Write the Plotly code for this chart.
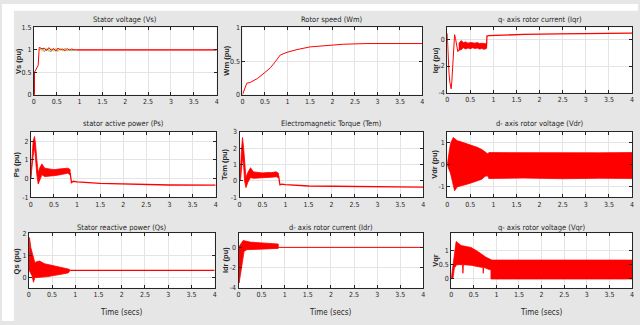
import plotly.graph_objects as go

W, H = 640, 325

# ---------------- data ----------------
x_ticks = [0, 0.5, 1, 1.5, 2, 2.5, 3, 3.5, 4]
x_tick_text = ["0", "0.5", "1", "1.5", "2", "2.5", "3", "3.5", "4"]

titles = ["Stator voltage (Vs)", "Rotor speed (Wm)", "q- axis rotor current (Iqr)",
          "stator active power (Ps)", "Electromagnetic Torque (Tem)", "d- axis rotor voltage (Vdr)",
          "Stator reactive power (Qs)", "d- axis rotor current (Idr)", "q- axis rotor voltage (Vqr)"]
ylabels = ["Vs (pu)", "Wm (pu)", "Iqr (pu)", "Ps (pu)", "Tem (pu)", "Vdr (pu)",
           "Qs (pu)", "Idr (pu)", "Vqr"]

# 1 Stator voltage
vs_t = [0, 0.015, 0.015, 0.06, 0.095, 0.12, 0.13]
vs_v = [0, 0, 0.5, 0.59, 0.65, 1.06, 1.05]
vs_osc_t = [0.13, 0.18, 0.23, 0.28, 0.33, 0.38, 0.43, 0.48, 0.53, 0.58, 0.63, 0.68, 0.73, 0.78, 0.83, 0.88, 0.93]
vs_a = [1.05, 1.02, 1.04, 0.98, 1.05, 0.99, 1.03, 0.97, 1.04, 1.0, 1.02, 0.98, 1.03, 0.99, 1.02, 1.0, 1.0]
vs_b = [1.02, 0.97, 1.0, 1.04, 0.96, 1.03, 0.97, 1.04, 0.98, 1.03, 0.97, 1.02, 0.98, 1.02, 0.99, 1.01, 1.0]
vs_c = [1.0, 1.04, 0.96, 1.02, 0.99, 0.96, 1.02, 0.99, 0.97, 1.02, 0.99, 1.03, 0.98, 1.01, 0.98, 1.0, 1.0]
vs_ss_t = [0.93, 4]
vs_ss = [1, 1]

# 2 Rotor speed
wm_t = [0, 0.095, 0.18, 0.33, 0.48, 0.62, 0.73, 0.84, 0.99, 1.21, 1.5, 1.8, 2.24, 2.75, 4.0]
wm_v = [0, 0.17, 0.185, 0.24, 0.32, 0.40, 0.49, 0.59, 0.63, 0.67, 0.71, 0.73, 0.75, 0.76, 0.76]

# 3 q-axis rotor current
iqr_t = [0, 0.01, 0.02, 0.04, 0.06, 0.085, 0.1, 0.12, 0.14, 0.16, 0.18, 0.2, 0.23, 0.25]
iqr_v = [0.5, -0.6, -1.6, -2.6, -3.3, -3.75, -3.2, -1.6, -0.3, 0.4, 0.1, -0.4, -0.9, -0.75]
iqr_band_t = [0.25, 0.3, 0.35, 0.4, 0.45, 0.5, 0.55, 0.6, 0.65, 0.7, 0.75, 0.8, 0.85]
iqr_band_up = [-0.3, -0.05, -0.2, -0.15, -0.25, -0.2, -0.22, -0.25, -0.2, -0.28, -0.25, -0.3, -0.3]
iqr_band_lo = [-0.8, -0.75, -0.6, -0.7, -0.62, -0.68, -0.6, -0.66, -0.62, -0.7, -0.66, -0.72, -0.66]
iqr_ss_t = [0.85, 0.86, 0.9, 1.2, 1.65, 2.4, 3.0, 4.0]
iqr_ss = [-0.6, 0.3, 0.33, 0.37, 0.42, 0.46, 0.49, 0.52]

# 4 stator active power
ps_band_t = [0, 0.02, 0.05, 0.08, 0.1, 0.13, 0.16, 0.2, 0.24, 0.3, 0.4, 0.5, 0.6, 0.7, 0.8, 0.85]
ps_band_up = [0, 1.0, 2.0, 2.25, 1.9, 1.0, 0.3, 0.6, 0.78, 0.55, 0.5, 0.47, 0.5, 0.52, 0.55, 0.48]
ps_band_lo = [0, 0.2, 1.2, 1.7, 1.2, 0.2, -0.3, -0.1, 0.2, 0.1, 0.12, 0.15, 0.18, 0.22, 0.28, 0.2]
ps_ss_t = [0.85, 0.88, 0.92, 1.0, 1.5, 2.0, 2.5, 3.0, 4.0]
ps_ss = [0.3, -0.22, -0.15, -0.18, -0.26, -0.29, -0.33, -0.35, -0.36]

# 5 electromagnetic torque
tem_band_t = [0, 0.02, 0.04, 0.065, 0.09, 0.11, 0.14, 0.18, 0.24, 0.3, 0.4, 0.5, 0.6, 0.7, 0.8, 0.85]
tem_band_up = [0, 0.6, 1.8, 2.65, 2.0, 1.0, 0.2, 0.5, 0.8, 0.55, 0.5, 0.48, 0.5, 0.5, 0.55, 0.45]
tem_band_lo = [0, 0.0, 0.6, 1.4, 0.9, 0.0, -0.42, -0.1, 0.2, 0.15, 0.15, 0.2, 0.2, 0.22, 0.25, 0.18]
tem_ss_t = [0.85, 0.88, 0.92, 1.0, 1.5, 2.0, 2.5, 3.0, 4.0]
tem_ss = [0.3, -0.25, -0.2, -0.24, -0.32, -0.34, -0.37, -0.38, -0.39]

# 6 d-axis rotor voltage
vdr_up_t = [0, 0.07, 0.13, 0.22, 0.3, 0.43, 0.55, 0.65, 0.75, 0.82, 0.88, 0.9, 1.65, 2.5, 3.3, 4.0]
vdr_up = [0, 0.96, 1.25, 1.1, 1.05, 0.96, 0.88, 0.8, 0.7, 0.59, 0.5, 0.56, 0.55, 0.57, 0.55, 0.56]
vdr_lo_t = [0, 0.07, 0.16, 0.22, 0.3, 0.43, 0.55, 0.65, 0.75, 0.82, 0.88, 0.9, 1.65, 2.5, 3.3, 4.0]
vdr_lo = [0, -0.37, -1.18, -1.0, -0.95, -0.88, -0.8, -0.74, -0.65, -0.52, -0.5, -0.62, -0.6, -0.63, -0.61, -0.62]

# 7 stator reactive power
qs_up_t = [0, 0.014, 0.043, 0.09, 0.13, 0.18, 0.23, 0.34, 0.45, 0.55, 0.66, 0.77, 0.87]
qs_up = [0.3, 1.8, 1.34, 0.97, 0.67, 0.72, 0.74, 0.62, 0.57, 0.52, 0.48, 0.44, 0.37]
qs_lo_t = [0, 0.014, 0.07, 0.1, 0.13, 0.2, 0.41, 0.63, 0.84, 0.87]
qs_lo = [0.3, 0.3, 0.07, -0.22, 0.0, 0.0, 0.04, 0.12, 0.2, 0.25]
qs_ss_t = [0.87, 4.0]
qs_ss = [0.32, 0.32]

# 8 d-axis rotor current
idr_up_t = [0, 0.035, 0.07, 0.1, 0.25, 0.46, 0.68, 0.86]
idr_up = [0, 0.26, 0.52, 0.68, 0.52, 0.43, 0.36, 0.33]
idr_lo_t = [0, 0.014, 0.05, 0.086, 0.12, 0.18, 0.46, 0.86]
idr_lo = [0, -3.5, -2.36, -1.38, -0.39, -0.23, -0.16, -0.1]
idr_ss_t = [0.86, 4.0]
idr_ss = [0, 0]

# 9 q-axis rotor voltage
vqr_up_t = [0, 0.06, 0.11, 0.15, 0.22, 0.44, 0.58, 0.77, 0.88, 0.9, 4.0]
vqr_up = [0, 0.73, 1.31, 1.26, 1.17, 1.1, 0.97, 0.76, 0.66, 0.66, 0.66]
vqr_lo_t = [0, 0.04, 0.07, 0.12, 0.22, 0.25, 0.26, 0.27, 0.44, 0.66, 0.7, 0.71, 0.72, 0.84, 0.88, 0.88, 4.0]
vqr_lo = [0, 0.03, 0.38, 0.5, 0.5, 0.5, 0.2, 0.5, 0.48, 0.41, 0.41, 0.2, 0.41, 0.33, 0.33, 0.0, 0.0]

y_ranges = [[0, 1.5], [0, 1], [-4.05, 0.96], [-1, 2.5], [-1, 3], [-1.47, 1.51],
            [-0.47, 2], [-4, 1.4], [-0.31, 1.6]]
y_ticks = [[0, 0.5, 1, 1.5], [0, 0.5, 1], [-4, -2, 0], [-1, 0, 1, 2], [-1, 0, 1, 2, 3],
           [-1, 0, 1], [0, 1, 2], [-4, -2, 0], [0, 0.5, 1]]
y_tick_text = [["0", "0.5", "1", "1.5"], ["0", "0.5", "1"], ["-4", "-2", "0"],
               ["-1", "0", "1", "2"], ["-1", "0", "1", "2", "3"], ["-1", "0", "1"],
               ["0", "1", "2"], ["-4", "-2", "0"], ["0", "0.5", "1"]]

# ---------------- layout geometry (pixels) ----------------
boxes = [(32, 216, 24, 93), (242, 423, 24, 93), (448, 634, 24, 91),
         (29, 215, 131, 198), (239, 424, 131, 198), (448, 634, 131, 198),
         (27, 214, 235, 291), (238, 424, 235, 291), (452, 634, 235, 291)]
title_y = [16, 16, 16, 123, 123, 123, 229, 229, 229]
ylab_x = [16, 225, 436, 15, 224, 435, 15, 225, 436]

RED = "#ff0000"
FONT = "Liberation Sans Narrow, DejaVu Sans Condensed, Liberation Sans, Arial, sans-serif"

fig = go.Figure()


def ax(i):
    return ("x" if i == 0 else f"x{i+1}"), ("y" if i == 0 else f"y{i+1}")


def line(i, t, v, color=RED, width=1.0):
    xa, ya = ax(i)
    fig.add_trace(go.Scatter(x=t, y=v, mode="lines", xaxis=xa, yaxis=ya,
                             line=dict(color=color, width=width), hoverinfo="skip",
                             showlegend=False))


def band(i, tu, up, tl, lo):
    xa, ya = ax(i)
    fig.add_trace(go.Scatter(x=list(tu) + list(tl)[::-1], y=list(up) + list(lo)[::-1],
                             mode="lines", fill="toself", fillcolor=RED,
                             line=dict(color=RED, width=0.8), xaxis=xa, yaxis=ya,
                             hoverinfo="skip", showlegend=False))


# 1
line(0, vs_t, vs_v)
line(0, vs_osc_t, vs_c, color="#19a8ff", width=1.0)
line(0, vs_osc_t, vs_b, color="#f0d000", width=1.0)
line(0, vs_osc_t, vs_a, color=RED, width=1.0)
line(0, vs_ss_t, vs_ss, color="#ff3030", width=1.6)
# 2
line(1, wm_t, wm_v)
# 3
line(2, iqr_t, iqr_v)
band(2, iqr_band_t, iqr_band_up, iqr_band_t, iqr_band_lo)
line(2, iqr_ss_t, iqr_ss, width=1.3)
# 4
band(3, ps_band_t, ps_band_up, ps_band_t, ps_band_lo)
line(3, ps_ss_t, ps_ss, width=1.3)
# 5
band(4, tem_band_t, tem_band_up, tem_band_t, tem_band_lo)
line(4, tem_ss_t, tem_ss, width=1.3)
# 6
band(5, vdr_up_t, vdr_up, vdr_lo_t, vdr_lo)
# 7
band(6, qs_up_t, qs_up, qs_lo_t, qs_lo)
line(6, qs_ss_t, qs_ss, width=1.3)
# 8
band(7, idr_up_t, idr_up, idr_lo_t, idr_lo)
line(7, idr_ss_t, idr_ss)
# 9
band(8, vqr_up_t, vqr_up, vqr_lo_t, vqr_lo)

layout = dict(width=W, height=H, margin=dict(l=0, r=0, t=0, b=0),
              paper_bgcolor="#e6e6e6", plot_bgcolor="white", showlegend=False,
              font=dict(family=FONT, size=7, color="#262626"))
annotations = []
for i, (x0, x1, y0, y1) in enumerate(boxes):
    xa, ya = ax(i)
    xk = "xaxis" if i == 0 else f"xaxis{i+1}"
    yk = "yaxis" if i == 0 else f"yaxis{i+1}"
    common = dict(showgrid=True, gridcolor="#e4e4e4", gridwidth=1, showline=True,
                  linecolor="#262626", linewidth=1, mirror="ticks", ticks="inside",
                  ticklen=3, tickcolor="#262626", zeroline=False, fixedrange=True,
                  tickfont=dict(family=FONT, size=7, color="#262626"))
    layout[xk] = dict(domain=[x0 / W, x1 / W], range=[0, 4], tickvals=x_ticks,
                      ticktext=x_tick_text, anchor=ya, **common)
    layout[yk] = dict(domain=[1 - y1 / H, 1 - y0 / H], range=y_ranges[i], tickvals=y_ticks[i],
                      ticktext=y_tick_text[i], anchor=xa, **common)
    annotations.append(dict(text=titles[i], x=(x0 + x1) / 2 / W, y=1 - title_y[i] / H,
                            xref="paper", yref="paper", showarrow=False, xanchor="center",
                            yanchor="middle", font=dict(family=FONT, size=7.5, color="#262626")))
    annotations.append(dict(text="<b>" + ylabels[i] + "</b>", x=ylab_x[i] / W,
                            y=1 - (y0 + y1) / 2 / H, xref="paper", yref="paper",
                            showarrow=False, textangle=-90, xanchor="center", yanchor="middle",
                            font=dict(family="Liberation Sans, Arial, sans-serif", size=7.5,
                                      color="#262626")))
    if i >= 6:
        annotations.append(dict(text="Time (secs)", x=(x0 + x1) / 2 / W, y=1 - 316 / H,
                                xref="paper", yref="paper", showarrow=False, xanchor="center",
                                yanchor="middle", font=dict(family=FONT, size=8, color="#262626")))
layout["annotations"] = annotations
layout["shapes"] = [
    dict(type="rect", xref="paper", yref="paper", x0=0, x1=12 / W, y0=0, y1=1,
         fillcolor="white", line=dict(width=0), layer="below"),
    dict(type="rect", xref="paper", yref="paper", x0=0, x1=1, y0=1 - 7 / H, y1=1,
         fillcolor="white", line=dict(width=0), layer="below"),
]
fig.update_layout(**layout)
fig.write_html("out.html", config={"displayModeBar": False, "staticPlot": True},
               post_script="document.body.style.margin='0';document.body.style.overflow='hidden';")
